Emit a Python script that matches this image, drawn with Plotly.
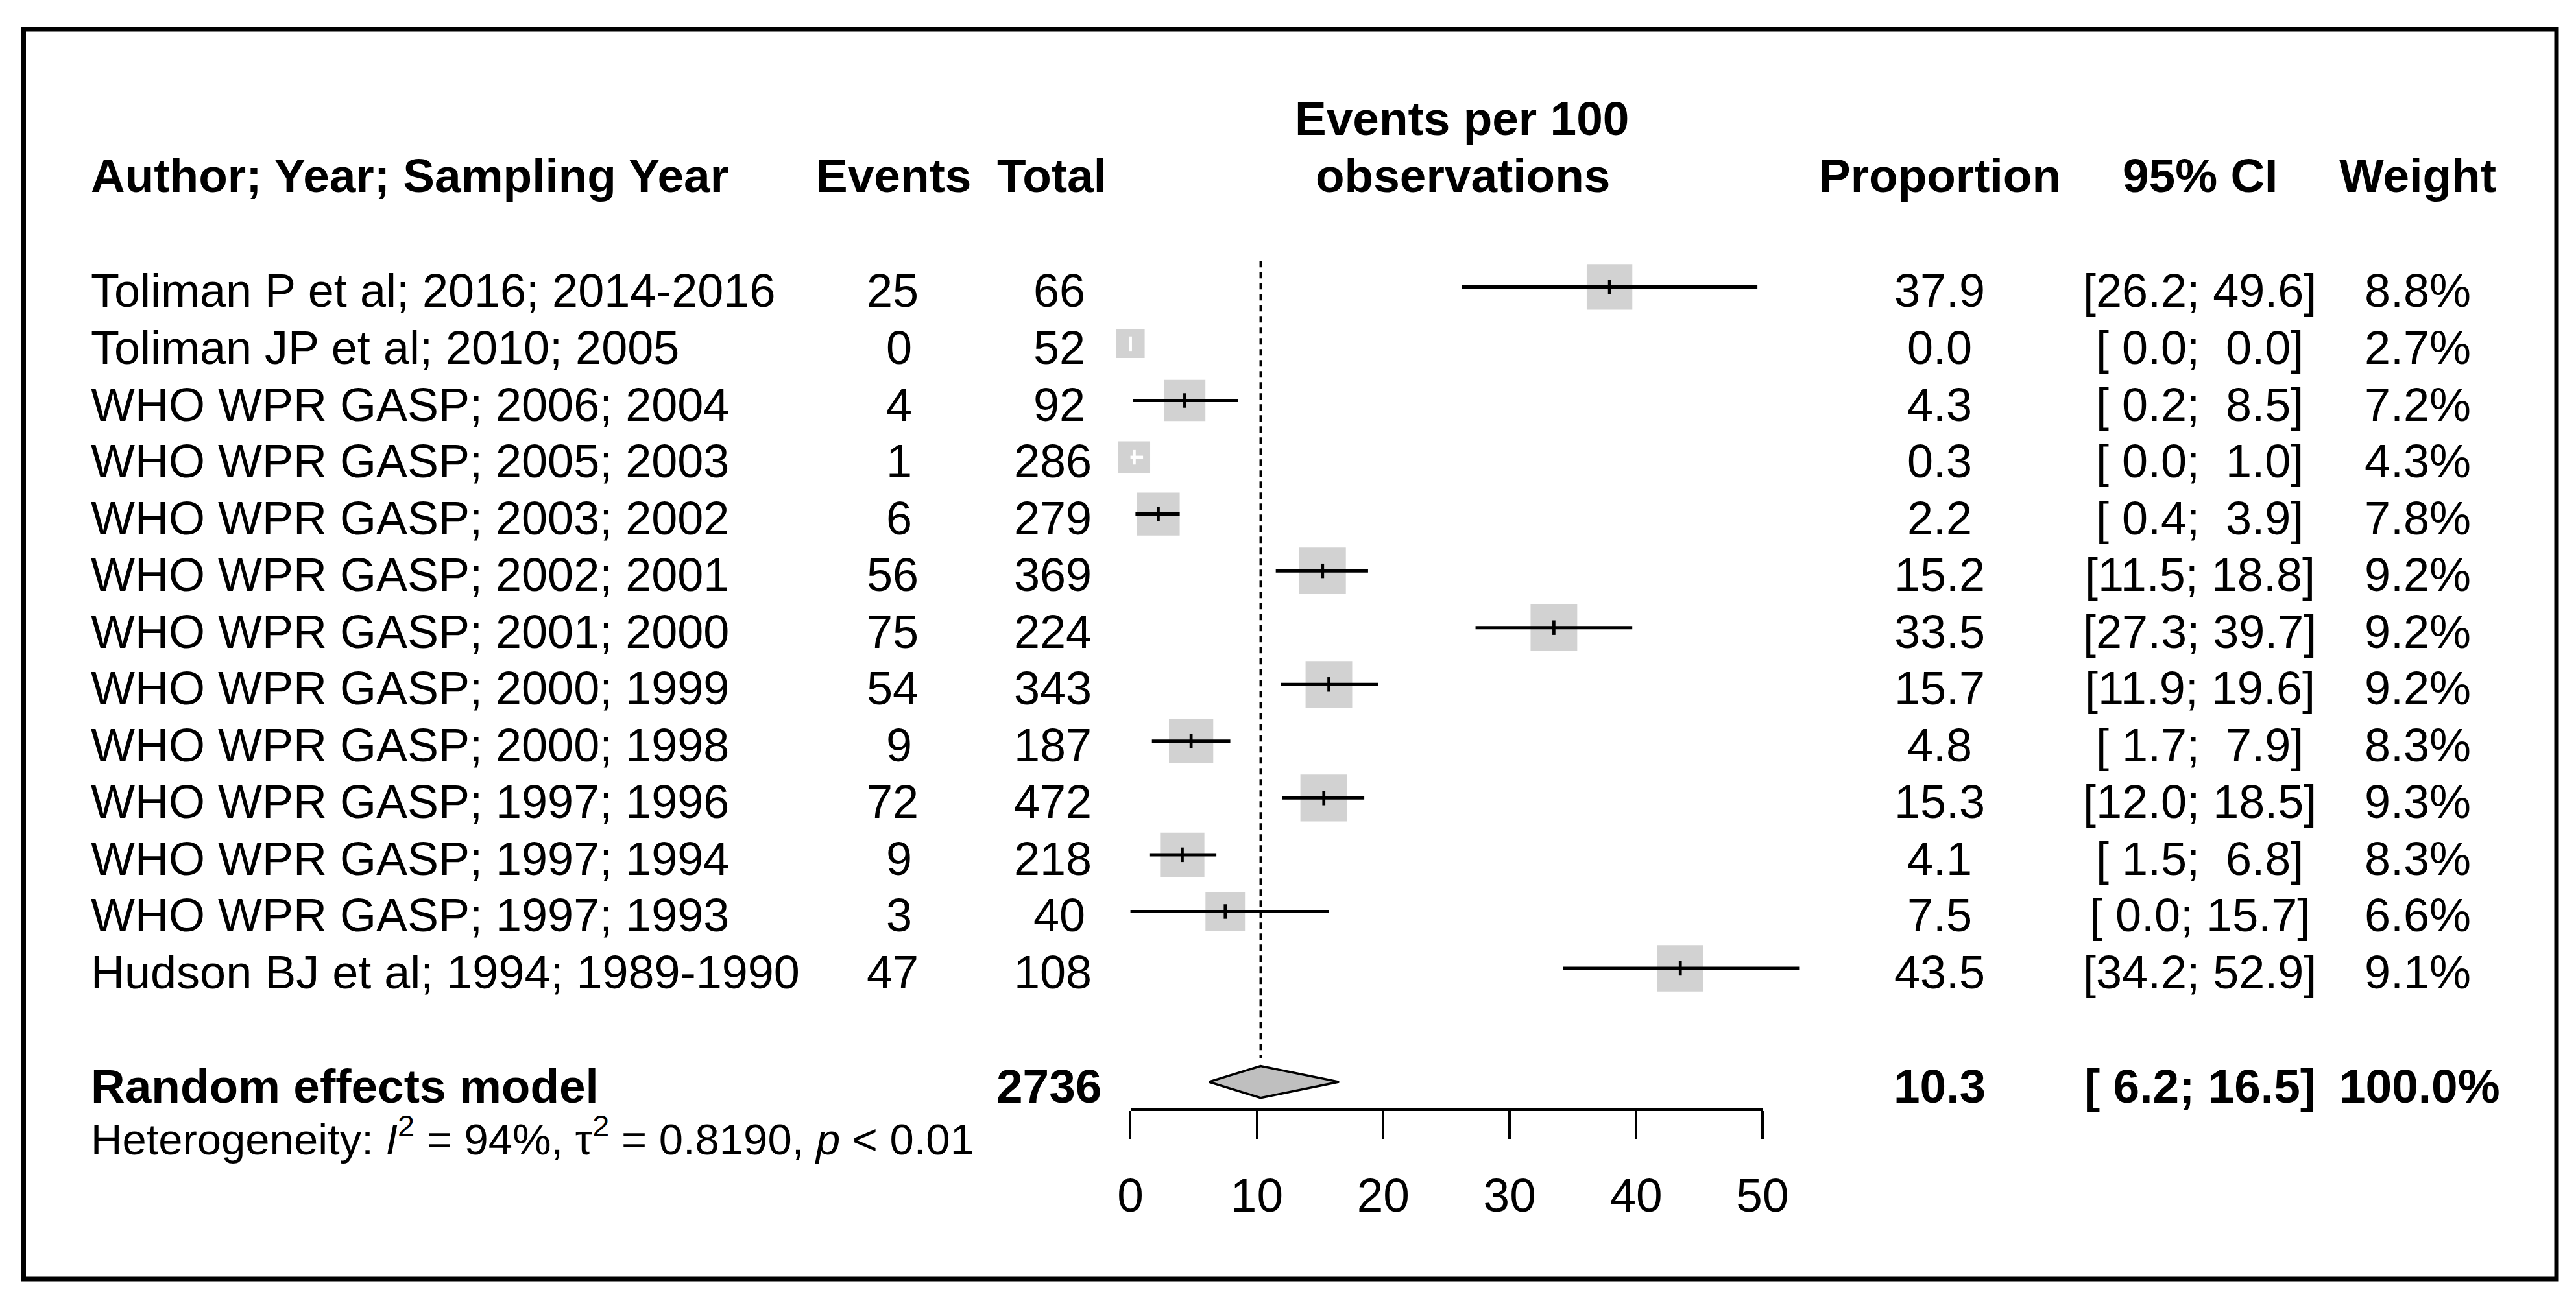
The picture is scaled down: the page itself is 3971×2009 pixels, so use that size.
import math
import plotly.graph_objects as go

W, H = 3971, 2009

# ---------------- data ----------------
studies = [
    "Toliman P et al; 2016; 2014-2016",
    "Toliman JP et al; 2010; 2005",
    "WHO WPR GASP; 2006; 2004",
    "WHO WPR GASP; 2005; 2003",
    "WHO WPR GASP; 2003; 2002",
    "WHO WPR GASP; 2002; 2001",
    "WHO WPR GASP; 2001; 2000",
    "WHO WPR GASP; 2000; 1999",
    "WHO WPR GASP; 2000; 1998",
    "WHO WPR GASP; 1997; 1996",
    "WHO WPR GASP; 1997; 1994",
    "WHO WPR GASP; 1997; 1993",
    "Hudson BJ et al; 1994; 1989-1990",
]
events = [25, 0, 4, 1, 6, 56, 75, 54, 9, 72, 9, 3, 47]
totals = [66, 52, 92, 286, 279, 369, 224, 343, 187, 472, 218, 40, 108]
proportion = [37.9, 0.0, 4.3, 0.3, 2.2, 15.2, 33.5, 15.7, 4.8, 15.3, 4.1, 7.5, 43.5]
ci_lower = [26.2, 0.0, 0.2, 0.0, 0.4, 11.5, 27.3, 11.9, 1.7, 12.0, 1.5, 0.0, 34.2]
ci_upper = [49.6, 0.0, 8.5, 1.0, 3.9, 18.8, 39.7, 19.6, 7.9, 18.5, 6.8, 15.7, 52.9]
weights = [8.8, 2.7, 7.2, 4.3, 7.8, 9.2, 9.2, 9.2, 8.3, 9.3, 8.3, 6.6, 9.1]

pooled_label = "Random effects model"
pooled_total = 2736
pooled_est = 10.3
pooled_lower = 6.2
pooled_upper = 16.5
pooled_weight = 100.0
het_text = ("Heterogeneity: <i>I</i><sup>2</sup> = 94%, \u03c4<sup>2</sup> = 0.8190, "
            "<i>p</i> &lt; 0.01")

header_cols = ["Author; Year; Sampling Year", "Events", "Total",
               "Proportion", "95% CI", "Weight"]
axis_title = ["Events per 100", "observations"]
tick_values = [0, 10, 20, 30, 40, 50]

# ---------------- layout geometry (pixels) ----------------
X0_PX, UNIT_PX = 1742.6, 19.486      # pixel of value 0, pixels per unit
ROW0_PX, ROW_PX = 442.4, 87.55       # pixel of first row, pixels per row
FONT = "Liberation Sans, Arial, sans-serif"
FS = 72        # regular text
FSB = 73       # bold text
GREY = "#BFBFBF"
NB = "\u00a0"

def xp(px):
    return px / W

def yp(px):
    return 1 - px / H

n = len(studies)
rows = list(range(n))
summary_row = n + 1

x_range = [(0 - X0_PX) / UNIT_PX, (W - X0_PX) / UNIT_PX]
y_range = [(H - ROW0_PX) / ROW_PX, (0 - ROW0_PX) / ROW_PX]

sizes = [max(44.0, 23.7 * math.sqrt(w)) for w in weights]
inside = []
for p, lo, hi, s in zip(proportion, ci_lower, ci_upper, sizes):
    half = s / 2 / UNIT_PX
    inside.append((p - lo) <= half and (hi - p) <= half)

fig = go.Figure()

# reference (pooled estimate) dotted line
fig.add_trace(go.Scatter(
    x=[pooled_est, pooled_est], y=[-0.46, summary_row - 0.42],
    mode="lines", line=dict(color="black", width=3.5, dash="10px,7px"),
    hoverinfo="skip", showlegend=False))

# squares
fig.add_trace(go.Scatter(
    x=proportion, y=rows, mode="markers",
    marker=dict(symbol="square", size=sizes, color=GREY, line=dict(width=0)),
    hoverinfo="skip", showlegend=False))

def ci_trace(flag, color):
    xs, ys = [], []
    for i in rows:
        if inside[i] == flag:
            xs += [ci_lower[i], ci_upper[i], None]
            ys += [i, i, None]
    return go.Scatter(x=xs, y=ys, mode="lines",
                      line=dict(color=color, width=5),
                      hoverinfo="skip", showlegend=False)

def tick_trace(flag, color):
    xs = [proportion[i] for i in rows if inside[i] == flag]
    ys = [i for i in rows if inside[i] == flag]
    return go.Scatter(x=xs, y=ys, mode="markers",
                      marker=dict(symbol="line-ns", size=16,
                                  line=dict(color=color, width=4.7)),
                      hoverinfo="skip", showlegend=False)

fig.add_trace(ci_trace(False, "black"))
fig.add_trace(ci_trace(True, "white"))
fig.add_trace(tick_trace(False, "black"))
fig.add_trace(tick_trace(True, "white"))

# pooled diamond
dh = 24.5 / ROW_PX
fig.add_trace(go.Scatter(
    x=[pooled_lower, pooled_est, pooled_upper, pooled_est, pooled_lower],
    y=[summary_row, summary_row - dh, summary_row, summary_row + dh, summary_row],
    mode="lines", fill="toself", fillcolor=GREY,
    line=dict(color="black", width=3.5),
    hoverinfo="skip", showlegend=False))

# invisible trace carrying the forest scale axis
fig.add_trace(go.Scatter(x=tick_values, y=[None] * len(tick_values),
                         xaxis="x2", yaxis="y", mode="markers",
                         hoverinfo="skip", showlegend=False))

annotations = []

def ann(text, x, y, xanchor="center", yref="paper", size=FS, yshift=0):
    annotations.append(dict(
        text=text, x=x, y=y, xref="paper", yref=yref, xanchor=xanchor,
        yanchor="middle", showarrow=False, borderpad=0, yshift=yshift,
        font=dict(family=FONT, size=size, color="black")))

# headers
HEAD_Y = 270
ann("<b>%s</b>" % header_cols[0], xp(139), yp(HEAD_Y), xanchor="left", size=FSB)
ann("<b>%s</b>" % header_cols[1], xp(1377), yp(HEAD_Y), size=FSB)
ann("<b>%s</b>" % header_cols[2], xp(1621), yp(HEAD_Y), size=FSB)
ann("<b>%s</b>" % axis_title[0], xp(2253), yp(183), size=FSB)
ann("<b>%s</b>" % axis_title[1], xp(2255), yp(HEAD_Y), size=FSB)
ann("<b>%s</b>" % header_cols[3], xp(2990), yp(HEAD_Y), size=FSB)
ann("<b>%s</b>" % header_cols[4], xp(3391), yp(HEAD_Y), size=FSB)
ann("<b>%s</b>" % header_cols[5], xp(3727), yp(HEAD_Y), size=FSB)

def ci_str(lo, hi):
    return ("[%4.1f; %4.1f]" % (lo, hi)).replace(" ", NB)

TS = -6
for i in rows:
    ann(studies[i], xp(139), i, xanchor="left", yref="y", yshift=TS)
    ann(("%2d" % events[i]).replace(" ", NB), xp(1376), i, yref="y", yshift=TS)
    ann(("%3d" % totals[i]).replace(" ", NB), xp(1623), i, yref="y", yshift=TS)
    ann("%.1f" % proportion[i], xp(2990), i, yref="y", yshift=TS)
    ann(ci_str(ci_lower[i], ci_upper[i]), xp(3391), i, yref="y", yshift=TS)
    ann("%.1f%%" % weights[i], xp(3727), i, yref="y", yshift=TS)

# summary row
ann("<b>%s</b>" % pooled_label, xp(139), summary_row, xanchor="left", yref="y", yshift=TS, size=FSB)
ann("<b>%d</b>" % pooled_total, xp(1617), summary_row, yref="y", yshift=TS, size=FSB)
ann("<b>%.1f</b>" % pooled_est, xp(2990), summary_row, yref="y", yshift=TS, size=FSB)
ann("<b>%s</b>" % ci_str(pooled_lower, pooled_upper), xp(3391), summary_row, yref="y", yshift=TS, size=FSB)
ann("<b>%.1f%%</b>" % pooled_weight, xp(3730), summary_row, yref="y", yshift=TS, size=FSB)

# heterogeneity
ann(het_text, xp(139), yp(1752), xanchor="left", size=67)

fig.update_layout(
    template="none",
    width=W, height=H, autosize=False,
    margin=dict(l=0, r=0, t=0, b=0, pad=0, autoexpand=False),
    paper_bgcolor="white", plot_bgcolor="rgba(0,0,0,0)",
    showlegend=False, hovermode=False,
    xaxis=dict(range=x_range, visible=False, fixedrange=True, domain=[0, 1],
               automargin=False),
    yaxis=dict(range=y_range, visible=False, fixedrange=True, domain=[0, 1],
               automargin=False),
    xaxis2=dict(
        domain=[xp(X0_PX), xp(X0_PX + 50 * UNIT_PX)], range=[0, 50],
        anchor="free", position=yp(1710.7), side="bottom", automargin=False,
        showline=True, linecolor="black", linewidth=4,
        ticks="outside", ticklen=43, tickwidth=3.5, tickcolor="black",
        ticklabelstandoff=25,
        tickvals=tick_values, ticktext=[str(t) for t in tick_values],
        tickfont=dict(family=FONT, size=73, color="black"),
        showgrid=False, zeroline=False, fixedrange=True),
    annotations=annotations,
    shapes=[dict(type="rect", xref="paper", yref="paper",
                 x0=xp(36.5), x1=xp(3941), y0=yp(1972), y1=yp(45),
                 line=dict(color="black", width=7), fillcolor="rgba(0,0,0,0)")],
)

fig.write_html("out.html",
               config={"displayModeBar": False, "staticPlot": True},
               post_script="document.body.style.margin='0px';"
                           "document.body.style.overflow='hidden';")
